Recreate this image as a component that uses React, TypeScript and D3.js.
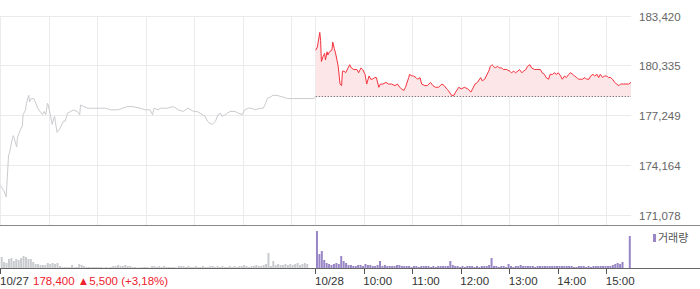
import React from 'react';
import * as d3 from 'd3';

const dayLabels = ['10/27', '10/28'];
const hourLabels = ['10:00', '11:00', '12:00', '13:00', '14:00', '15:00'];
const yTickValues = [171078, 174164, 177249, 180335, 183420];
const prevClose = 178400;
const headerPrice = '178,400';
const headerChange = '▲5,500';
const headerRate = '(+3,18%)';
const legendLabel = '거래량';
const sessionMinutes = 390;

// 10/27 — [minutes since 09:00, price]
const day1Series: [number, number][] = [
  [0,172900],[4,172600],[7,172200],[10,174800],[11,174900],[15,175900],[16,176000],[20,175300],[21,175900],[25,176400],
  [27,176600],[28,177300],[31,177600],[32,178000],[35,178500],[36,178100],[38,178300],[41,178300],[43,178100],[46,177700],
  [49,177500],[52,177300],[54,177500],[56,177300],[58,178000],[59,177900],[62,177200],[64,176700],[66,177100],[67,177200],
  [68,176800],[70,176200],[73,176400],[75,176600],[78,176900],[80,176900],[83,177400],[87,177500],[90,177600],[95,177500],
  [98,177300],[99,177900],[103,177800],[108,177700],[111,177700],[117,177700],[124,177700],[130,177700],[136,177600],[145,177600],
  [151,177700],[157,177800],[164,177800],[173,177700],[179,177600],[185,177600],[188,177300],[190,177700],[195,177600],[198,177700],
  [206,177700],[214,177800],[220,177600],[226,177500],[229,177600],[232,177700],[239,177500],[243,177500],[250,177300],[253,177200],
  [256,176900],[258,176800],[262,176700],[266,176900],[269,177300],[272,177400],[274,177200],[278,177300],[284,177500],[290,177500],
  [294,177400],[299,177300],[302,177600],[307,177700],[311,177700],[315,177600],[321,177700],[325,177700],[328,178000],[330,178300],
  [334,178400],[337,178500],[342,178500],[349,178400],[355,178300],[361,178300],[367,178300],[373,178300],[379,178300],[387,178300],
  [390,178400],
];

// 10/28 — [minutes since 09:00, price]
const day2Series: [number, number][] = [
  [0,181300],[2,181500],[5,182400],[6,181900],[7,180600],[9,180900],[11,181100],[12,180700],[14,181200],[15,181000],
  [17,181200],[20,181300],[21,181800],[23,181400],[25,181000],[27,180500],[28,180200],[30,179200],[32,179100],[33,180000],
  [35,180000],[37,179900],[40,180200],[42,180400],[44,180200],[47,180100],[51,180100],[53,179900],[56,180200],[58,180100],
  [61,179800],[63,179200],[66,179700],[68,179500],[70,179500],[73,179600],[75,179600],[78,179000],[80,179200],[83,179200],
  [87,179300],[90,179200],[94,179200],[98,179100],[101,179200],[104,179000],[106,178900],[109,178800],[111,179000],[115,179600],
  [116,179800],[119,179700],[121,179700],[124,179600],[126,179500],[129,179600],[131,179200],[135,179100],[138,179100],[142,179300],
  [145,179100],[148,179000],[152,179000],[156,179200],[159,179100],[162,178900],[164,178800],[168,178500],[171,178500],[173,178700],
  [177,179000],[180,178900],[184,179000],[188,178900],[192,178700],[194,178900],[197,179200],[200,179300],[204,179600],[206,179400],
  [209,179500],[211,179700],[214,180000],[216,180300],[218,180400],[220,180300],[222,180200],[225,180300],[227,180200],[230,180200],
  [232,180100],[236,180100],[240,180000],[242,179900],[245,180000],[247,179900],[250,180000],[252,180100],[255,179900],[257,180000],
  [260,180100],[262,180300],[265,180400],[267,180200],[271,180100],[274,180100],[278,180100],[280,179900],[283,179800],[285,179600],
  [288,179500],[290,179800],[293,179800],[295,179900],[298,179800],[300,179900],[303,179700],[305,179500],[308,179700],[310,179600],
  [313,179800],[315,179900],[318,179800],[320,179700],[323,179600],[325,179500],[328,179500],[330,179500],[333,179600],[335,179500],
  [338,179500],[340,179700],[343,179800],[345,179700],[348,179800],[350,179600],[352,179800],[355,179600],[357,179700],[360,179700],
  [362,179600],[365,179600],[367,179500],[370,179300],[372,179200],[375,179100],[377,179200],[381,179200],[385,179200],[387,179200],
  [390,179300],
];

// volume per 3-minute bucket (thousand shares)
const day1Volume = [
  11,6,5,9,10,7,9,8,10,12, 11,9,9,6,4,4,3,3,3,5, 4,5,4,5,2,1,1,1,1,3, 1,1,4,3,2,1,1,1,1,1,
  1,1,0.5,1,0.5,1,2,2,3,2, 2,3,2,2,1,1,0.5,0.5,1,1, 1,0.5,2,2,1,2,1,2,1,1, 1,1,0.5,2,2,2,1,2,1,1,
  2,1,1,2,1,1,2,2,1,2, 1,2,1,1,2,1,2,1,2,2, 3,2,1,2,2,3,2,2,3,4, 15,2,7,3,4,3,3,4,3,4,
  3,4,5,3,4,5,4,0,0,0,
];
const day2Volume = [
  37,14,17,8,5,4,3,4,5,4, 12,7,5,3,3,2,2,3,3,2, 4,3,3,2,2,3,7,2,3,2, 2,2,2,3,3,2,2,2,2,1,
  2,2,1,2,2,2,2,1,2,1, 2,2,2,2,2,7,3,2,2,1, 2,1,2,2,2,1,2,1,2,2, 2,3,10,2,2,1,2,2,1,4,
  2,1,2,2,3,2,2,2,2,2, 1,2,2,2,2,2,2,2,2,2, 2,2,2,2,2,2,1,1,2,2, 2,1,2,1,2,2,2,2,2,2,
  2,2,3,4,5,4,6,0,0,32,
];
const bucketMinutes = 3;

export default function App() {
  const W = 700;
  const H = 289;
  const x = d3.scaleLinear().domain([0, sessionMinutes * 2]).range([0.5, 631]);
  const y = d3.scaleLinear().domain([yTickValues[0], yTickValues[yTickValues.length - 1]]).range([215, 16]);
  const vy = d3.scaleLinear().domain([0, 42]).range([268, 226]);
  const crisp = (v: number) => Math.floor(v) + 0.5;

  const s1 = day1Series.map(([m, p]) => [m, p] as [number, number]);
  const s2 = day2Series.map(([m, p]) => [m + sessionMinutes, p] as [number, number]);
  const line = d3.line<[number, number]>().x(d => x(d[0])).y(d => y(d[1]));
  const area = d3.area<[number, number]>().x(d => x(d[0])).y0(y(prevClose)).y1(d => y(d[1]));

  const vGrid: number[] = [];
  for (let day = 0; day < 2; day++) for (let h = 0; h < 7; h++) vGrid.push(day * sessionMinutes + h * 60);

  const font = '"Liberation Sans", Arial, "Noto Sans CJK KR", sans-serif';
  const baseY = crisp(y(prevClose));
  const barW = 2;

  return (
    <svg width={W} height={H} style={{ position: 'absolute', left: 0, top: 0, display: 'block', background: '#fff' }} fontFamily={font}>
      {yTickValues.map(v => (
        <line key={'h' + v} x1={0} x2={x(sessionMinutes * 2)} y1={crisp(y(v))} y2={crisp(y(v))} stroke="#ebebeb" />
      ))}
      {vGrid.map(m => (
        <line key={'v' + m} x1={crisp(x(m))} x2={crisp(x(m))} y1={16} y2={225} stroke="#ebebeb" />
      ))}
      <path d={area(s2) || ''} fill="#fde6e8" />
      <line x1={x(sessionMinutes)} x2={x(sessionMinutes * 2)} y1={baseY} y2={baseY} stroke="#555" strokeDasharray="1,2" />
      <path d={line(s1) || ''} fill="none" stroke="#c9cbcf" strokeWidth={1} />
      <path d={line(s2) || ''} fill="none" stroke="#f4323d" strokeWidth={1} />
      {yTickValues.map(v => (
        <text key={'yl' + v} x={639} y={y(v) + 4.5} fontSize={11.5} fill="#666">{d3.format(',')(v)}</text>
      ))}
      <line x1={0} x2={W} y1={225.5} y2={225.5} stroke="#888" />
      {day1Volume.map((v, i) => (
        <rect key={'a' + i} x={x(i * bucketMinutes + 1.5) - barW / 2} width={barW} y={vy(v)} height={268 - vy(v)} fill="#c9cbcf" />
      ))}
      {day2Volume.map((v, i) => (
        <rect key={'b' + i} x={x(sessionMinutes + i * bucketMinutes + 1.5) - barW / 2} width={barW} y={vy(v)} height={268 - vy(v)} fill="#9886c6" />
      ))}
      <line x1={0} x2={W} y1={268.5} y2={268.5} stroke="#666" />
      <rect x={653} y={234} width={3} height={8} fill="#9886c6" />
      <text x={658} y={242} fontSize={11} fill="#555">{legendLabel}</text>
      {[0, sessionMinutes].map((m, i) => (
        <g key={'d' + i}>
          <line x1={crisp(x(m))} x2={crisp(x(m))} y1={269} y2={274} stroke="#555" />
          <text x={Math.floor(x(m))} y={285} fontSize={11.5} fill="#333">{dayLabels[i]}</text>
        </g>
      ))}
      {hourLabels.map((l, i) => {
        const m = sessionMinutes + (i + 1) * 60;
        return (
          <g key={'t' + l}>
            <line x1={crisp(x(m))} x2={crisp(x(m))} y1={269} y2={274} stroke="#555" />
            <text x={x(m) - 1} y={285} fontSize={11.5} fill="#333">{l}</text>
          </g>
        );
      })}
      <text x={33} y={285} fontSize={11.5} fill="#f0202c">
        {headerPrice} <tspan>{headerChange}</tspan> <tspan>{headerRate}</tspan>
      </text>
    </svg>
  );
}
